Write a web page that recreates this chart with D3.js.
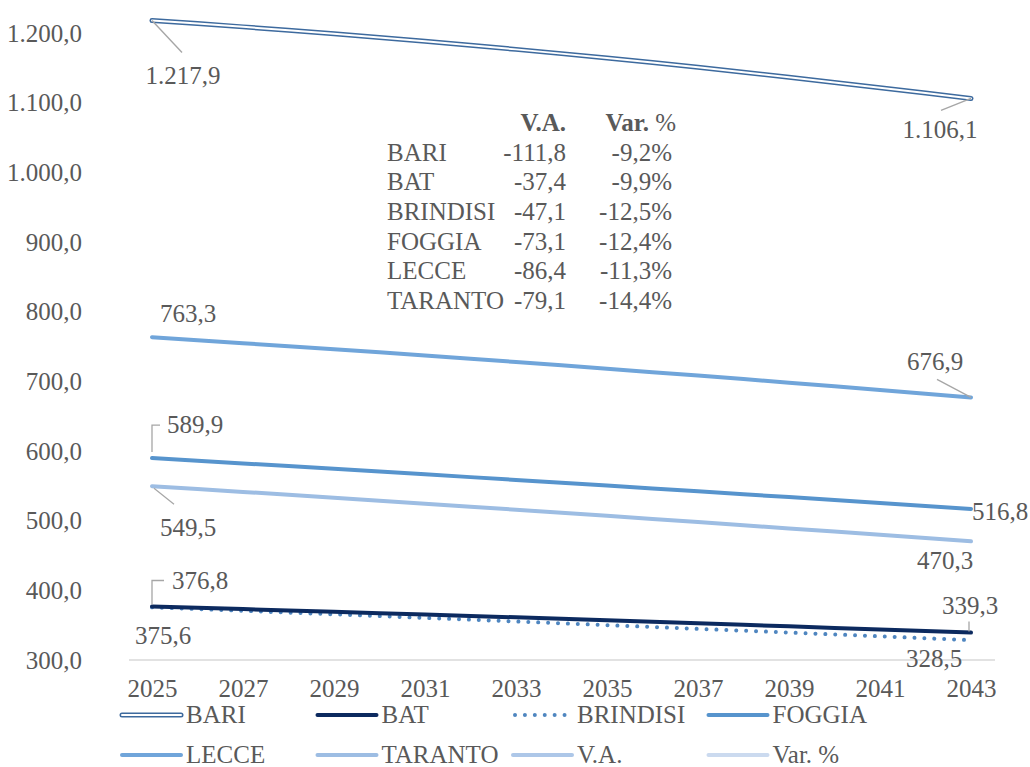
<!DOCTYPE html>
<html>
<head>
<meta charset="utf-8">
<script src="https://cdn.jsdelivr.net/npm/d3@7"></script>
<style>
  body { margin: 0; background: #fff; }
  svg text { font-family: "Liberation Serif", "DejaVu Serif", serif; fill: #595959; }
</style>
</head>
<body>
<div class="container"></div>
<script>
  var width = 1030,
    height = 767,
    fontSize = "25px";

  // anni di proiezione
  var years = [2025, 2026, 2027, 2028, 2029, 2030, 2031, 2032, 2033, 2034,
    2035, 2036, 2037, 2038, 2039, 2040, 2041, 2042, 2043];
  var tickYears = [2025, 2027, 2029, 2031, 2033, 2035, 2037, 2039, 2041, 2043];
  var yTicks = [300, 400, 500, 600, 700, 800, 900, 1000, 1100, 1200];

  var bari = [1217.9, 1213.5, 1208.8, 1203.9, 1198.9, 1193.6, 1188.1, 1182.4, 1176.5, 1170.4,
    1164.1, 1157.5, 1150.7, 1143.7, 1136.5, 1129.1, 1121.5, 1113.9, 1106.1];
  var bat = [376.8, 374.9, 373.1, 371.1, 369.2, 367.2, 365.2, 363.2, 361.2, 359.1,
    357.0, 354.9, 352.7, 350.5, 348.3, 346.1, 343.9, 341.6, 339.3];
  var brindisi = [375.6, 373.1, 370.6, 368.1, 365.6, 363.0, 360.4, 357.9, 355.3, 352.7,
    350.0, 347.4, 344.7, 342.1, 339.4, 336.7, 334.0, 331.2, 328.5];
  var foggia = [589.9, 586.1, 582.2, 578.3, 574.4, 570.5, 566.5, 562.5, 558.5, 554.4,
    550.4, 546.3, 542.1, 538.0, 533.8, 529.6, 525.3, 521.1, 516.8];
  var lecce = [763.3, 759.1, 754.8, 750.5, 746.1, 741.6, 737.1, 732.4, 727.7, 723.0,
    718.1, 713.2, 708.3, 703.2, 698.1, 692.9, 687.6, 682.3, 676.9];
  var taranto = [549.5, 545.4, 541.3, 537.1, 532.9, 528.6, 524.4, 520.1, 515.7, 511.3,
    506.9, 502.5, 498.0, 493.4, 488.9, 484.3, 479.7, 475.0, 470.3];

  // tabella riassuntiva
  var tableNames = ["BARI", "BAT", "BRINDISI", "FOGGIA", "LECCE", "TARANTO"];
  var tableVA = ["-111,8", "-37,4", "-47,1", "-73,1", "-86,4", "-79,1"];
  var tableVar = ["-9,2%", "-9,9%", "-12,5%", "-12,4%", "-11,3%", "-14,4%"];

  var legendNames = ["BARI", "BAT", "BRINDISI", "FOGGIA", "LECCE", "TARANTO", "V.A.", "Var. %"];

  var it = d3.formatLocale({ decimal: ",", thousands: ".", grouping: [3], currency: ["", "€"] });
  var fmt = it.format(",.1f");

  var series = [
    { name: "BARI", values: bari, color: "#3d6a9e", double: true },
    { name: "BAT", values: bat, color: "#0c2a5f", width: 4 },
    { name: "BRINDISI", values: brindisi, color: "#4f86c0", width: 4, dotted: true },
    { name: "FOGGIA", values: foggia, color: "#5794cd", width: 4 },
    { name: "LECCE", values: lecce, color: "#70a5da", width: 4 },
    { name: "TARANTO", values: taranto, color: "#9dbde3", width: 4 },
    { name: "V.A.", values: null, color: "#adc7e8", width: 4 },
    { name: "Var. %", values: null, color: "#cbdaef", width: 4 }
  ];

  var x = d3.scalePoint().domain(years).range([152, 971]);
  var y = d3.scaleLinear().domain([300, 1200]).range([660, 33]);

  var svg = d3.select(".container").append("svg")
    .attr("width", width)
    .attr("height", height);

  // asse orizzontale
  svg.append("line")
    .attr("x1", 129).attr("x2", 995)
    .attr("y1", y(300)).attr("y2", y(300))
    .attr("stroke", "#d9d9d9").attr("stroke-width", 1.5);

  var yAxis = svg.append("g")
    .attr("transform", "translate(82,0)")
    .call(d3.axisLeft(y).tickValues(yTicks).tickSize(0).tickPadding(0).tickFormat(fmt));
  yAxis.select(".domain").remove();
  yAxis.selectAll("text").style("font-size", fontSize).attr("font-family", null);

  var xAxis = svg.append("g")
    .attr("transform", "translate(0," + y(300) + ")")
    .call(d3.axisBottom(x).tickValues(tickYears).tickSize(0).tickPadding(19));
  xAxis.select(".domain").remove();
  xAxis.selectAll("text").style("font-size", fontSize).attr("font-family", null);

  var line = d3.line()
    .x(function(d, i) { return x(years[i]); })
    .y(function(d) { return y(d); });

  var lines = svg.append("g");
  series.filter(function(s) { return s.values; }).reverse().forEach(function(s) {
    if (s.double) {
      lines.append("path").attr("d", line(s.values))
        .attr("fill", "none").attr("stroke", s.color).attr("stroke-width", 5)
        .attr("stroke-linecap", "round");
      lines.append("path").attr("d", line(s.values))
        .attr("fill", "none").attr("stroke", "#fff").attr("stroke-width", 2)
        .attr("stroke-linecap", "round");
    } else {
      lines.append("path").attr("d", line(s.values))
        .attr("fill", "none").attr("stroke", s.color).attr("stroke-width", s.width)
        .attr("stroke-linecap", "round")
        .attr("stroke-dasharray", s.dotted ? "0.01 9.9" : null);
    }
  });

  // etichette dati (primo e ultimo anno) con linee guida
  var labels = [
    { v: bari, i: 0, dx: 31, dy: 55, lead: [[0, 0], [30, 32]] },
    { v: bari, i: 18, dx: -31, dy: 31, lead: [[0, 0], [-30, 12]] },
    { v: lecce, i: 0, dx: 36, dy: -24 },
    { v: lecce, i: 18, dx: -36, dy: -36, lead: [[0, 0], [-34, -18]] },
    { v: foggia, i: 0, dx: 43, dy: -34, lead: [[0, -6], [0, -33], [8, -33]] },
    { v: foggia, i: 18, dx: 29, dy: 2 },
    { v: taranto, i: 0, dx: 36, dy: 41, lead: [[2, 2], [22, 18]] },
    { v: taranto, i: 18, dx: -26, dy: 19 },
    { v: bat, i: 0, dx: 48, dy: -26, lead: [[0, -2], [0, -26], [12, -26]] },
    { v: bat, i: 18, dx: -1, dy: -27, lead: [[-2, -11], [-2, -1]] },
    { v: brindisi, i: 0, dx: 11, dy: 28 },
    { v: brindisi, i: 18, dx: -37, dy: 18 }
  ];

  labels.forEach(function(l) {
    var px = x(years[l.i]), py = y(l.v[l.i]);
    if (l.lead) {
      svg.append("path")
        .attr("d", d3.line()(l.lead.map(function(p) { return [px + p[0], py + p[1]]; })))
        .attr("fill", "none").attr("stroke", "#a6a6a6").attr("stroke-width", 1.3);
    }
    svg.append("text")
      .attr("x", px + l.dx).attr("y", py + l.dy)
      .attr("text-anchor", "middle").attr("dy", "0.35em")
      .style("font-size", fontSize)
      .text(fmt(l.v[l.i]));
  });

  // tabella
  var table = svg.append("g");
  table.append("text").attr("x", 566).attr("y", 122).attr("dy", "0.35em")
    .attr("text-anchor", "end").style("font-size", fontSize).style("font-weight", "bold")
    .text("V.A.");
  var hdr2 = table.append("text").attr("x", 676).attr("y", 122).attr("dy", "0.35em")
    .attr("text-anchor", "end").style("font-size", fontSize);
  hdr2.append("tspan").style("font-weight", "bold").text("Var.");
  hdr2.append("tspan").text(" %");

  tableNames.forEach(function(n, i) {
    var ty = 152 + i * 29.6;
    table.append("text").attr("x", 387).attr("y", ty).attr("dy", "0.35em")
      .style("font-size", fontSize).text(n);
    table.append("text").attr("x", 566).attr("y", ty).attr("dy", "0.35em")
      .attr("text-anchor", "end").style("font-size", fontSize).text(tableVA[i]);
    table.append("text").attr("x", 672).attr("y", ty).attr("dy", "0.35em")
      .attr("text-anchor", "end").style("font-size", fontSize).text(tableVar[i]);
  });

  // legenda
  var legend = svg.append("g");
  series.forEach(function(s, i) {
    var lx = 122 + (i % 4) * 195.5,
      ly = 715 + Math.floor(i / 4) * 40;
    if (s.double) {
      legend.append("line").attr("x1", lx).attr("x2", lx + 59).attr("y1", ly).attr("y2", ly)
        .attr("stroke", s.color).attr("stroke-width", 5).attr("stroke-linecap", "round");
      legend.append("line").attr("x1", lx).attr("x2", lx + 59).attr("y1", ly).attr("y2", ly)
        .attr("stroke", "#fff").attr("stroke-width", 2).attr("stroke-linecap", "round");
    } else {
      legend.append("line").attr("x1", lx + (s.dotted ? 2 : 0)).attr("x2", lx + 59).attr("y1", ly).attr("y2", ly)
        .attr("stroke", s.color).attr("stroke-width", s.width).attr("stroke-linecap", "round")
        .attr("stroke-dasharray", s.dotted ? "0.01 9.9" : null);
    }
    legend.append("text").attr("x", lx + 64).attr("y", ly).attr("dy", "0.32em")
      .style("font-size", fontSize).text(legendNames[i]);
  });
</script>
</body>
</html>
